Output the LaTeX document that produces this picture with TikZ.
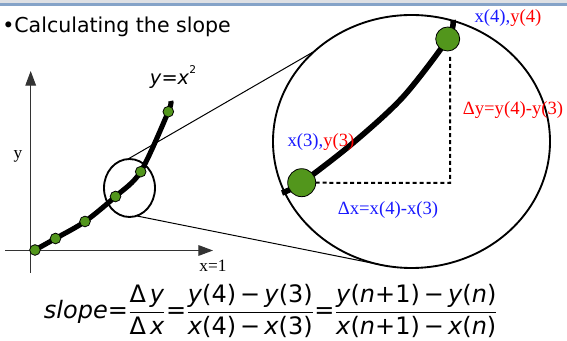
\documentclass[tikz,border=0pt]{standalone}
\usepackage{fontspec}
\setmainfont{Liberation Serif}
\newfontfamily\sansfnt{DejaVu Sans}
\usetikzlibrary{shapes.geometric,arrows.meta}
\definecolor{DotFill} {RGB}{82,150,28}
\definecolor{LblBlue} {RGB}{25,25,255}
\definecolor{LblRed}  {RGB}{255,0,0}
\definecolor{BarGray} {RGB}{222,224,228}
\definecolor{BarBlue} {RGB}{133,163,200}
\newcommand{\titlefnt}{\sansfnt\fontsize{15.4}{18}\selectfont}
\newcommand{\lblfnt}{\fontsize{14}{16}\selectfont}
\newcommand{\axfnt}{\fontsize{13}{15}\selectfont}
\newcommand{\eqfnt}{\sansfnt\fontsize{18}{21}\selectfont}
\newcommand{\frc}[2]{$\displaystyle\frac{\mbox{#1}}{\mbox{#2}}$}
\newcommand{\mi}[1]{\textit{#1}}
\tikzset{
  nd_dot/.style={
    circle, fill=DotFill, draw=black, line width=0.6pt,
    inner sep=0pt, minimum size=#1},
  nd_zoom/.style={
    ellipse, draw=black, line width=1.4pt, inner sep=0pt, outer sep=0pt},
  crv/.style={line width=#1, line cap=butt},
  axis/.style={-{Triangle[length=11pt,width=8pt]}, line width=0.8pt, draw=black!80},
  dashln/.style={line width=1.5pt, dash pattern=on 3pt off 2.2pt},
  lbl/.style={font=\lblfnt, inner sep=0pt},
}

\begin{document}
\begin{tikzpicture}[x=0.75pt,y=-0.75pt]
\useasboundingbox (0,0) rectangle (567,341);

%% top bar and title
\fill[BarGray] (0,0) rectangle (567,3.3);
\fill[BarBlue] (0,3.3) rectangle (567,6.3);
\node[anchor=west, font=\titlefnt, inner sep=0pt] (title) at (2,27) {•Calculating the slope};

%% axes
\coordinate (yb) at (30.7,273);
\coordinate (yt) at (30.7,71);
\coordinate (xl) at (5,250.5);
\coordinate (xr) at (213,250.5);
\draw[axis] (yb) -- (yt);
\draw[axis] (xl) -- (xr);
\node[font=\axfnt] (ylab) at (18,156) {y};
\node[font=\axfnt] (xlab) at (213,266) {x=1};
\node[font=\sansfnt\fontsize{14.5}{16}\selectfont, inner sep=0pt] (fn) at (173,77)
  {\mi{y}=\mi{x}\raisebox{1.1ex}{\fontsize{8}{9}\selectfont 2}};

%% curve y=x^2
\coordinate (s0) at (35,250);
\coordinate (s1) at (55.5,238.5);
\coordinate (s2) at (85,221.5);
\coordinate (s3) at (115.5,196.5);
\coordinate (s4) at (140.7,171.7);
\coordinate (s5) at (168.3,111.7);
\coordinate (s6) at (170.7,101);
\draw[crv=3.8pt] plot[smooth] coordinates {(s0) (s1) (s2) (s3) (s4) (s5) (s6)};
\foreach \i in {0,...,5}
  {\node[nd_dot=8pt] (d\i) at (s\i) {};}

%% zoom circles
\node[nd_zoom, minimum width=38.25pt, minimum height=43.5pt] (zs) at (129.5,188) {};
\node[nd_zoom, minimum width=207.75pt, minimum height=189.75pt] (zb) at (411.5,141.5) {};
\draw[line width=0.75pt] (zs.93) -- (zb.137);
\draw[line width=0.75pt] (zs.-76) -- (zb.-102);

%% zoomed segment
\coordinate (b0) at (282,193);
\coordinate (b1) at (301.7,182.7);
\coordinate (b2) at (353,143);
\coordinate (b3) at (403,97);
\coordinate (b4) at (447.7,39);
\coordinate (b5) at (453,20);
\coordinate (bc) at (450,183);
\coordinate (bt) at (450,55);
\draw[crv=4.2pt] plot[smooth] coordinates {(b0) (b1) (b2) (b3) (b4) (b5)};
\draw[dashln] (b1) -- (bc) -- (bt);
\node[nd_dot=21pt] (B1) at (b1) {};
\node[nd_dot=18pt] (B2) at (b4) {};

\node[lbl] (L4) at (508,18) {\textcolor{LblBlue}{x(4),}\textcolor{LblRed}{y(4)}};
\node[lbl] (L3) at (321,142) {\textcolor{LblBlue}{x(3),}\textcolor{LblRed}{y(3)}};
\node[lbl, text=LblRed] (dy) at (513,110) {Δy=y(4)-y(3)};
\node[lbl, text=LblBlue] (dx) at (388,210) {Δx=x(4)-x(3)};

%% slope formula
\node[font=\eqfnt, inner sep=0pt] (eq) at (271,311)
  {\mi{slope}=\frc{Δ\,\mi{y}}{Δ\,\mi{x}}=%
   \frc{\mi{y}(4)\,−\,\mi{y}(3)}{\mi{x}(4)\,−\,\mi{x}(3)}=%
   \frc{\mi{y}(\mi{n}+1)\,−\,\mi{y}(\mi{n})}{\mi{x}(\mi{n}+1)\,−\,\mi{x}(\mi{n})}};

\end{tikzpicture}
\end{document}
